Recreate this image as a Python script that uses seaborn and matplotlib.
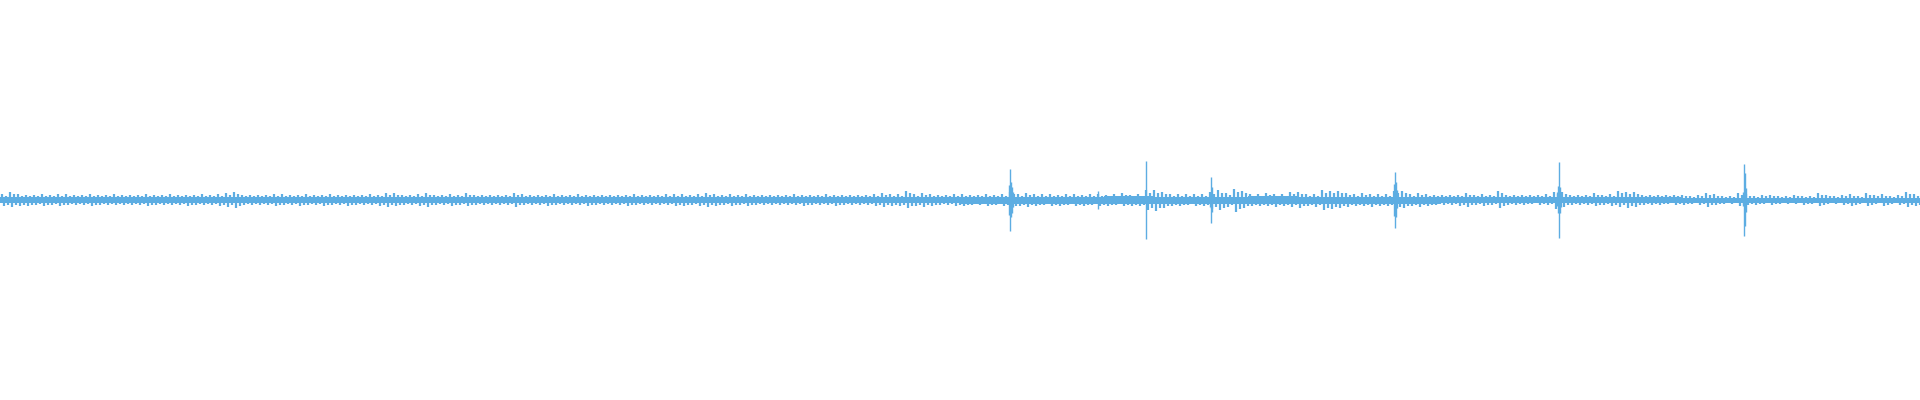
import numpy as np
import matplotlib
matplotlib.use("Agg")
import matplotlib.pyplot as plt
import seaborn as sns

# Waveform peaks (amplitude units, full scale = 200), one value per 8-sample block
block = 8
up0 = [6,8,6,5,5,6,5,6,6,5,5,6,5,5,6,5,5,5,6,5,5,6,5,5,5,6,5,6,7,8]
lo0 = [6,7,6,6,5,6,5,6,5,5,5,6,5,5,5,5,5,5,6,5,5,5,5,6,5,5,5,6,7,8]
up1 = [5,5,5,5,6,6,5,5,6,5,5,6,5,5,5,5,6,5,7,7,5,5,6,7,5,5,6,5,7,5]
lo1 = [5,5,5,5,6,5,5,6,5,5,6,5,5,6,5,5,5,6,7,6,5,5,6,7,5,5,6,5,6,5]
up2 = [5,5,5,5,7,6,5,5,5,6,5,5,6,5,5,5,5,5,5,6,5,5,5,6,6,6,5,6,7,6]
lo2 = [5,5,5,5,7,5,5,5,6,5,5,5,5,6,5,5,5,5,6,5,5,5,5,5,6,6,5,6,7,6]
up3 = [5,6,5,6,5,5,5,5,5,6,5,5,5,6,5,5,5,5,5,6,7,6,6,9,6,7,6,5,5,6]
lo3 = [5,6,5,6,5,5,5,5,5,5,6,5,5,5,6,5,5,5,5,6,7,6,6,8,6,7,6,5,5,6]
up4 = [6,5,5,6,5,6,8,6,7,6,6,6,5,6,6,5,6,6,5,6,7,5,6,10,10,8,6,6,6,6]
lo4 = [6,5,5,6,5,6,8,6,7,6,5,6,6,5,6,6,5,6,6,5,6,6,6,10,11,8,6,6,5,6]
up5 = [6,8,10,7,11,9,6,6,7,6,6,8,8,6,6,10,9,9,7,6,7,6,6,6,9,9,6,7,6,5]
lo5 = [6,9,10,7,12,8,6,6,6,7,6,7,8,6,7,10,9,8,7,6,6,7,6,6,9,8,6,7,6,5]
up6 = [5,5,5,7,5,6,5,9,5,5,5,5,5,6,8,8,5,5,5,7,5,6,9,8,8,5,5,5,5,5]
lo6 = [5,5,6,7,5,6,5,8,5,5,5,4,5,5,9,7,5,5,5,6,5,6,7,8,7,5,5,5,4,5]
up7 = [5,4,5,7,6,4,4,7,6,4,5,5,4,4,5,4,4,7,5,4,5,6,4,7,5,6,4,5,8,6]
lo7 = [5,4,5,7,5,4,4,6,5,5,4,5,4,4,4,5,4,6,4,4,5,6,4,6,4,6,4,5,7,6]

# RMS core of the waveform, one value per 48-sample window
core_block = 48
core = [3, 3, 3, 3, 3, 3, 3, 3, 3, 3,
        3, 3, 3, 3, 3, 3, 3, 3, 3, 3,
        3.5, 3.5, 3.5, 4, 3.5, 3.5, 4, 3.5, 3.5, 3.5,
        3, 3, 3, 3, 3, 2.5, 2.5, 2.5, 2.5, 2.5]

# Transient peaks: sample position, positive peak, negative peak
peak_x  = [1008, 1009, 1010, 1011, 1012, 1097, 1145, 1209, 1210, 1211,
           1393, 1394, 1395, 1396, 1556, 1557, 1558, 1559, 1560,
           1742, 1743, 1744, 1745]
peak_up = [15, 31, 18, 13, 8, 9, 39, 6, 23, 13,
           16, 28, 18, 10, 8, 14, 38, 13, 8,
           8, 36, 27, 12]
peak_dn = [15, 31, 17, 13, 7, 9, 39, 7, 23, 12,
           16, 28, 17, 8, 6, 13, 38, 13, 7,
           6, 36, 26, 12]

color = "#5DADE2"

sns.set_theme(style="white")
fig = plt.figure(figsize=(19.2, 4), dpi=100)
ax = fig.add_axes([0, 0, 1, 1])

upper = np.array(up0 + up1 + up2 + up3 + up4 + up5 + up6 + up7, dtype=float)
lower = np.array(lo0 + lo1 + lo2 + lo3 + lo4 + lo5 + lo6 + lo7, dtype=float)
core_arr = np.array(core, dtype=float)

# solid RMS band
core_edges = np.arange(len(core_arr) + 1) * core_block
ax.stairs(core_arr, core_edges, baseline=-core_arr, fill=True, color=color, linewidth=0)

# peak strokes: positive and negative peaks placed inside each block
starts = np.arange(len(upper)) * block
core_at = core_arr[(starts // core_block).astype(int)]
for off, frac in ((1.5, 1.0), (5.5, 0.75)):
    ax.vlines(starts + off, -core_at, np.maximum(upper * frac, core_at),
              color=color, linewidth=1.6)
for off, frac in ((3.5, 1.0), (7.5, 0.75)):
    ax.vlines(starts + off, -np.maximum(lower * frac, core_at), core_at,
              color=color, linewidth=1.6)

ax.vlines(np.array(peak_x) + 0.5, -np.array(peak_dn), np.array(peak_up),
          color=color, linewidth=1.0)

ax.set_xlim(0, 1920)
ax.set_ylim(-200, 200)
ax.axis("off")
fig.patch.set_facecolor("white")
fig.savefig("out.png", dpi=100, facecolor="white")
